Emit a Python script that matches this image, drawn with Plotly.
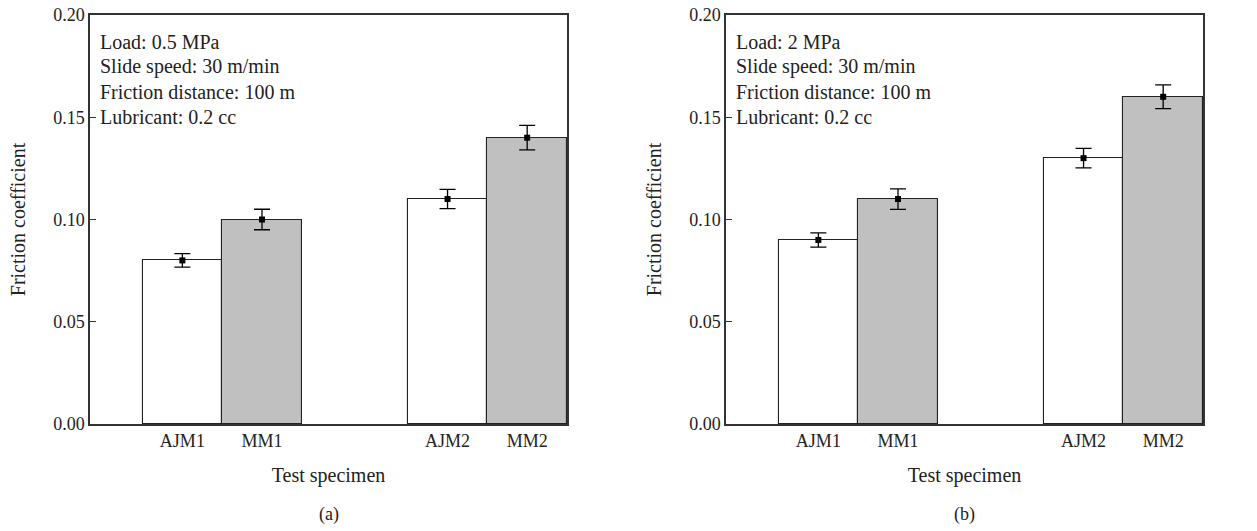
import plotly.graph_objects as go

categories = ["AJM1", "MM1", "AJM2", "MM2"]
positions = [0, 1, 3.33, 4.33]
fills = ["white", "#c0c0c0", "white", "#c0c0c0"]

vals_a = [0.080, 0.100, 0.110, 0.140]
err_a = [0.0033, 0.005, 0.0047, 0.006]
vals_b = [0.090, 0.110, 0.130, 0.160]
err_b = [0.0035, 0.005, 0.0048, 0.0058]

notes_a = ["Load: 0.5 MPa", "Slide speed: 30 m/min", "Friction distance: 100 m", "Lubricant: 0.2 cc"]
notes_b = ["Load: 2 MPa", "Slide speed: 30 m/min", "Friction distance: 100 m", "Lubricant: 0.2 cc"]

y_ticks = [0.0, 0.05, 0.10, 0.15, 0.20]
y_ticktext = ["0.00", "0.05", "0.10", "0.15", "0.20"]

FONT = "Liberation Serif"
W, H = 1257, 531

fig = go.Figure()

panels = [
    (vals_a, err_a, notes_a, "x", "y", "(a)"),
    (vals_b, err_b, notes_b, "x2", "y2", "(b)"),
]

for vals, errs, notes, xa, ya, lab in panels:
    fig.add_trace(go.Bar(
        x=positions, y=vals, width=1.0,
        marker=dict(color=fills, line=dict(color="#222222", width=1.1)),
        xaxis=xa, yaxis=ya, showlegend=False,
    ))
    fig.add_trace(go.Scatter(
        x=positions, y=vals, mode="markers",
        marker=dict(symbol="square", size=6, color="black"),
        error_y=dict(type="data", array=errs, visible=True, color="black", thickness=1.3, width=8),
        xaxis=xa, yaxis=ya, showlegend=False,
    ))

x_dom = [(90 / W, 567 / W), (726 / W, 1203 / W)]
y_dom = (1 - 424 / H, 1 - 15 / H)

axis_common = dict(
    showline=True, linecolor="#333333", linewidth=1.5, mirror=True,
    showgrid=False, zeroline=False, automargin=False,
)

layout = dict(
    width=W, height=H,
    margin=dict(l=0, r=0, t=0, b=0),
    paper_bgcolor="white", plot_bgcolor="white",
    font=dict(family=FONT, size=18, color="#222222"),
    bargap=0,
)

for i, (xa, ya) in enumerate([("xaxis", "yaxis"), ("xaxis2", "yaxis2")]):
    xname = "x" if i == 0 else "x2"
    yname = "y" if i == 0 else "y2"
    layout[xa] = dict(
        domain=list(x_dom[i]), anchor=yname, range=[-1.16, 4.83],
        tickvals=positions, ticktext=categories, ticks="",
        tickfont=dict(family=FONT, size=18, color="#222222"),
        title=dict(text="Test specimen", font=dict(family=FONT, size=20, color="#222222"), standoff=18),
        **axis_common,
    )
    layout[ya] = dict(
        domain=list(y_dom), anchor=xname, range=[0, 0.2],
        tickvals=y_ticks, ticktext=y_ticktext, ticks="inside", ticklen=6,
        tickcolor="#333333", tickwidth=1.2,
        tickfont=dict(family=FONT, size=18, color="#222222"),
        title=dict(text="Friction coefficient", font=dict(family=FONT, size=20, color="#222222"), standoff=22),
        **axis_common,
    )

fig.update_layout(**layout)

annotations = []
line_y = [42, 67, 92, 117]
for i, (vals, errs, notes, xa, ya, lab) in enumerate(panels):
    x0 = x_dom[i][0] + 8 / W
    for txt, yp in zip(notes, line_y):
        annotations.append(dict(
            text=txt, x=x0, y=1 - yp / H, xref="paper", yref="paper",
            xanchor="left", yanchor="middle", showarrow=False,
            font=dict(family=FONT, size=20, color="#222222"),
        ))
    annotations.append(dict(
        text=lab, x=(x_dom[i][0] + x_dom[i][1]) / 2, y=1 - 514 / H,
        xref="paper", yref="paper", xanchor="center", yanchor="middle",
        showarrow=False, font=dict(family=FONT, size=18, color="#222222"),
    ))

fig.update_layout(annotations=annotations)

fig.write_html("out.html")
